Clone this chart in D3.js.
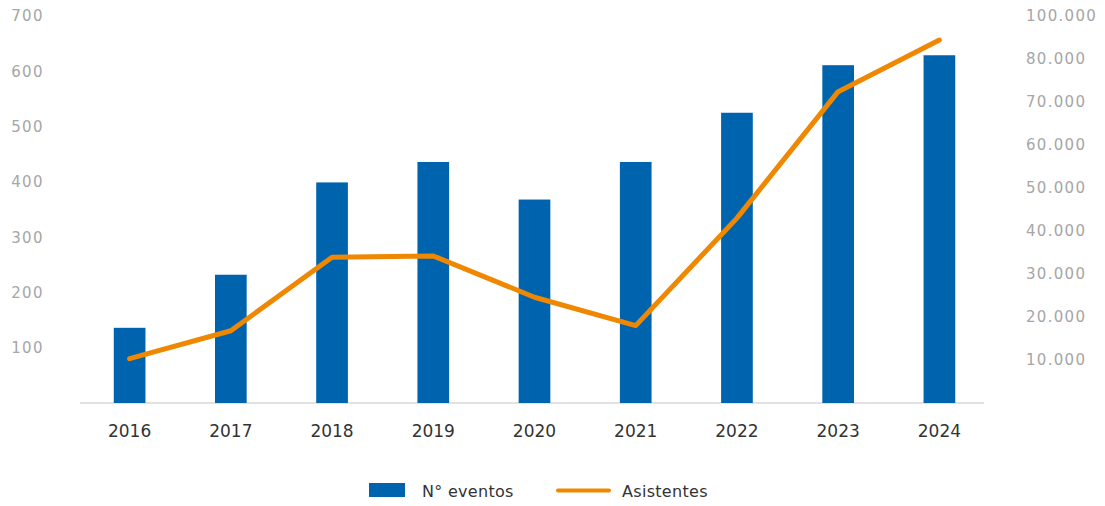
<!DOCTYPE html>
<html>
<head>
<meta charset="utf-8">
<script src="https://cdn.jsdelivr.net/npm/d3@7"></script>
<style>
  body { margin: 0; background: #fff; }
  svg { display: block; }
</style>
</head>
<body>
<div id="chart"></div>
<script>
// data
var years = ["2016", "2017", "2018", "2019", "2020", "2021", "2022", "2023", "2024"];
var eventos = [136, 232, 399, 436, 368, 436, 525, 611, 629];
var asistentes = [10300, 16800, 33900, 34200, 24600, 18000, 43000, 72400, 84400];

var leftTicks = [100, 200, 300, 400, 500, 600, 700];
var rightTicks = [10000, 20000, 30000, 40000, 50000, 60000, 70000, 80000, 90000];
var rightTickLabels = ["10.000", "20.000", "30.000", "40.000", "50.000", "60.000", "70.000", "80.000", "100.000"];

var width = 1105,
    height = 506,
    blue = "#0063ae",
    orange = "#ef8800";

var svg = d3.select("#chart").append("svg")
    .attr("width", width)
    .attr("height", height)
    .style("font-family", "'DejaVu Sans', sans-serif");

var x = d3.scaleBand()
    .domain(years)
    .range([79, 990])
    .paddingInner(0.687)
    .paddingOuter(0.3435);

var yLeft = d3.scaleLinear().domain([0, 700]).range([403, 16]);
var yRight = d3.scaleLinear().domain([0, 90000]).range([403, 16]);

// baseline
svg.append("line")
    .attr("x1", 80).attr("x2", 984)
    .attr("y1", yLeft(0)).attr("y2", yLeft(0))
    .style("stroke", "#d9d9d9")
    .style("stroke-width", 1.5);

// left axis labels
svg.append("g").selectAll("text")
    .data(leftTicks)
    .enter().append("text")
    .attr("x", 44)
    .attr("y", function(d) { return yLeft(d); })
    .attr("dy", "0.36em")
    .attr("text-anchor", "end")
    .style("font-size", "15px")
    .style("letter-spacing", "1.4px")
    .style("fill", "#a6a6a6")
    .text(function(d) { return d; });

// right axis labels
svg.append("g").selectAll("text")
    .data(rightTicks)
    .enter().append("text")
    .attr("x", 1026)
    .attr("y", function(d) { return yRight(d); })
    .attr("dy", "0.36em")
    .style("font-size", "15px")
    .style("letter-spacing", "1.3px")
    .style("fill", "#a6a6a6")
    .text(function(d, i) { return rightTickLabels[i]; });

// bars
svg.append("g").selectAll("rect")
    .data(eventos)
    .enter().append("rect")
    .attr("x", function(d, i) { return x(years[i]); })
    .attr("width", x.bandwidth())
    .attr("y", function(d) { return yLeft(d); })
    .attr("height", function(d) { return yLeft(0) - yLeft(d); })
    .style("fill", blue);

// line
var line = d3.line()
    .x(function(d, i) { return x(years[i]) + x.bandwidth() / 2; })
    .y(function(d) { return yRight(d); });

svg.append("path")
    .datum(asistentes)
    .attr("d", line)
    .style("fill", "none")
    .style("stroke", orange)
    .style("stroke-width", 5)
    .style("stroke-linejoin", "round")
    .style("stroke-linecap", "round");

// x labels
svg.append("g").selectAll("text")
    .data(years)
    .enter().append("text")
    .attr("x", function(d) { return x(d) + x.bandwidth() / 2; })
    .attr("y", 437)
    .attr("text-anchor", "middle")
    .style("font-size", "17px")
    .style("fill", "#333")
    .text(function(d) { return d; });

// legend
var legend = svg.append("g");
legend.append("rect")
    .attr("x", 369).attr("y", 483)
    .attr("width", 36).attr("height", 14)
    .style("fill", blue);
legend.append("text")
    .attr("x", 422).attr("y", 497)
    .style("font-size", "16px")
    .style("letter-spacing", "0.3px")
    .style("fill", "#333")
    .text("N° eventos");
legend.append("line")
    .attr("x1", 558).attr("x2", 609)
    .attr("y1", 490.5).attr("y2", 490.5)
    .style("stroke", orange)
    .style("stroke-width", 4)
    .style("stroke-linecap", "round");
legend.append("text")
    .attr("x", 622).attr("y", 497)
    .style("font-size", "16px")
    .style("letter-spacing", "0.3px")
    .style("fill", "#333")
    .text("Asistentes");
</script>
</body>
</html>
